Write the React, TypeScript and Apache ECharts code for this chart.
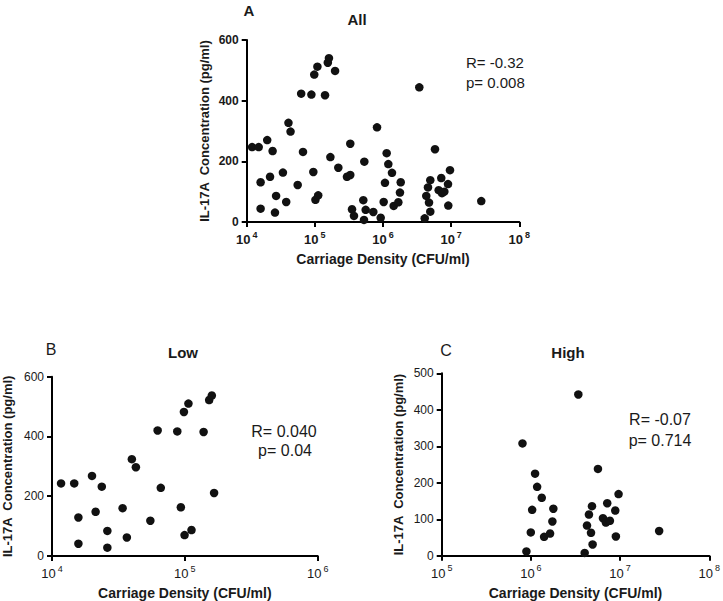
import React, { useEffect, useRef } from "react";
import * as echarts from "echarts";

// Panel A (All)
const allDensity = [
  161000, 155000, 109000, 98000, 198000, 63000, 89000, 141000, 3410000,
  12000, 15000, 20000, 24000, 41000, 44000, 16000, 22000, 34000, 16000,
  27000, 26000, 38000, 56000, 67000, 95000, 102000, 112000, 169000, 221000,
  296000, 331000, 331000, 351000, 375000, 514000, 532000, 557000, 526000,
  817000, 721000, 925000, 1023000, 1069000, 1132000, 1197000, 1355000,
  1435000, 1679000, 1774000, 1820000, 4093000, 4315000, 4571000, 4943000,
  4732000, 4943000, 5794000, 6561000, 7161000, 7345000, 7943000, 8995000,
  9616000, 9078000, 27670000,
];
const allIL17A = [
  540, 525, 512, 486, 498, 423, 420, 418, 444,
  247, 247, 270, 234, 327, 298, 131, 149, 163, 44,
  86, 31, 66, 122, 231, 165, 73, 88, 214, 179,
  149, 155, 258, 42, 20, 72, 199, 40, 7,
  312, 33, 14, 66, 129, 227, 191, 162,
  53, 65, 97, 131, 12, 86, 114, 138,
  64, 34, 240, 105, 145, 95, 100, 125,
  171, 54, 69,
];

// Panel B (Low)
const lowDensity = [
  11700, 14700, 20000, 23700, 15800, 21300, 15800, 26100, 26100, 34000,
  36600, 39900, 42800, 55000, 62400, 65900, 87700, 93300, 98400, 106400,
  99500, 112200, 138400, 152400, 159600, 166000,
];
const lowIL17A = [
  243, 243, 268, 232, 129, 148, 41, 84, 28, 160,
  62, 324, 297, 118, 420, 228, 417, 163, 482, 510,
  70, 87, 415, 522, 537, 211,
];

// Panel C (High)
const highDensity = [
  805000, 891000, 1114000, 1175000, 1324000, 1033000, 998000, 1406000,
  1641000, 1742000, 1786000, 3404000, 4009000, 4256000, 4477000, 4721000,
  4842000, 4920000, 5649000, 6427000, 6934000, 7178000, 7691000, 8831000,
  8974000, 9616000, 27420000,
];
const highIL17A = [
  308, 12, 225, 189, 159, 126, 64, 52,
  61, 94, 129, 442, 8, 83, 113, 63,
  136, 31, 238, 103, 91, 144, 96, 124,
  53, 169, 68,
];

const yTicksA = [0, 200, 400, 600];
const yTicksC = [0, 100, 200, 300, 400, 500];

const FONT = "Liberation Sans";

function pairs(xs: number[], ys: number[]) {
  return xs.map((x, i) => [x, ys[i]]);
}

function xAxisOpt(gridIndex: number, min: number, max: number, bold: boolean) {
  const fw = bold ? "bold" : "normal";
  return {
    type: "log",
    logBase: 10,
    gridIndex,
    min,
    max,
    name: "Carriage Density (CFU/ml)",
    nameLocation: "middle",
    nameGap: 30,
    nameTextStyle: { fontFamily: FONT, fontSize: 14, fontWeight: "bold", color: "#1a1a1a" },
    axisLine: { show: true, onZero: false, lineStyle: { color: "#000", width: 2 } },
    axisTick: { show: true, inside: false, length: 5, lineStyle: { color: "#000", width: 2 } },
    minorTick: { show: false },
    splitLine: { show: false },
    axisLabel: {
      margin: 8,
      formatter: (v: number) => `{b|10}{s|${Math.round(Math.log10(v))}}`,
      rich: {
        b: { fontFamily: FONT, fontSize: 13, fontWeight: fw, color: "#1a1a1a", lineHeight: 16, verticalAlign: "bottom" },
        s: { fontFamily: FONT, fontSize: 9, fontWeight: fw, color: "#1a1a1a", lineHeight: 16, verticalAlign: "top", padding: [0, 0, 0, 2] },
      },
    },
  };
}

function yAxisOpt(gridIndex: number, ticks: number[], bold: boolean, nameGap: number) {
  return {
    type: "value",
    gridIndex,
    min: ticks[0],
    max: ticks[ticks.length - 1],
    interval: ticks[1] - ticks[0],
    name: "IL-17A  Concentration (pg/ml)",
    nameLocation: "middle",
    nameGap,
    nameTextStyle: { fontFamily: FONT, fontSize: 13, fontWeight: "bold", color: "#1a1a1a" },
    axisLine: { show: true, lineStyle: { color: "#000", width: 2 } },
    axisTick: { show: true, inside: false, length: 5, lineStyle: { color: "#000", width: 2 } },
    splitLine: { show: false },
    axisLabel: {
      margin: 8,
      fontFamily: FONT,
      fontSize: 12,
      fontWeight: bold ? "bold" : "normal",
      color: "#1a1a1a",
    },
  };
}

function txt(x: number, y: number, text: string, size: number, bold: boolean, align: string = "center") {
  return {
    type: "text",
    x,
    y,
    style: {
      text,
      fontFamily: FONT,
      fontSize: size,
      fontWeight: bold ? "bold" : "normal",
      fill: "#1a1a1a",
      align,
      verticalAlign: "middle",
    },
  };
}

export default function App() {
  const ref = useRef<HTMLDivElement>(null);
  useEffect(() => {
    if (!ref.current) return;
    const chart = echarts.init(ref.current, null, { renderer: "svg" });
    const scatterStyle = { color: "#111", opacity: 1 };
    chart.setOption({
      animation: false,
      backgroundColor: "#fff",
      grid: [
        { left: 246.7, top: 40, width: 272.6, height: 182 },
        { left: 48.3, top: 376.7, width: 269.4, height: 180 },
        { left: 441.7, top: 373.3, width: 269.3, height: 182.5 },
      ],
      xAxis: [
        xAxisOpt(0, 1e4, 1e8, true),
        xAxisOpt(1, 1e4, 1e6, false),
        xAxisOpt(2, 1e5, 1e8, false),
      ],
      yAxis: [
        yAxisOpt(0, yTicksA, true, 36),
        yAxisOpt(1, yTicksA, false, 38),
        yAxisOpt(2, yTicksC, false, 37),
      ],
      series: [
        { type: "scatter", xAxisIndex: 0, yAxisIndex: 0, data: pairs(allDensity, allIL17A), symbolSize: 8.5, itemStyle: scatterStyle },
        { type: "scatter", xAxisIndex: 1, yAxisIndex: 1, data: pairs(lowDensity, lowIL17A), symbolSize: 8.5, itemStyle: scatterStyle },
        { type: "scatter", xAxisIndex: 2, yAxisIndex: 2, data: pairs(highDensity, highIL17A), symbolSize: 8.5, itemStyle: scatterStyle },
      ],
      graphic: [
        txt(249, 10, "A", 15, true),
        txt(357, 19, "All", 15, true),
        txt(466, 62, "R= -0.32", 15, false, "left"),
        txt(466, 82, "p= 0.008", 15, false, "left"),
        txt(51, 349, "B", 16, false),
        txt(183, 352, "Low", 15, true),
        txt(284, 431, "R= 0.040", 16, false),
        txt(285, 450, "p= 0.04", 16, false),
        txt(446, 350, "C", 16, false),
        txt(568, 352, "High", 15, true),
        txt(660, 419, "R= -0.07", 16, false),
        txt(660, 440, "p= 0.714", 16, false),
      ],
    });
    return () => chart.dispose();
  }, []);
  return (
    <div
      ref={ref}
      style={{ position: "fixed", left: 0, top: 0, width: 723, height: 601, background: "#fff" }}
    />
  );
}
